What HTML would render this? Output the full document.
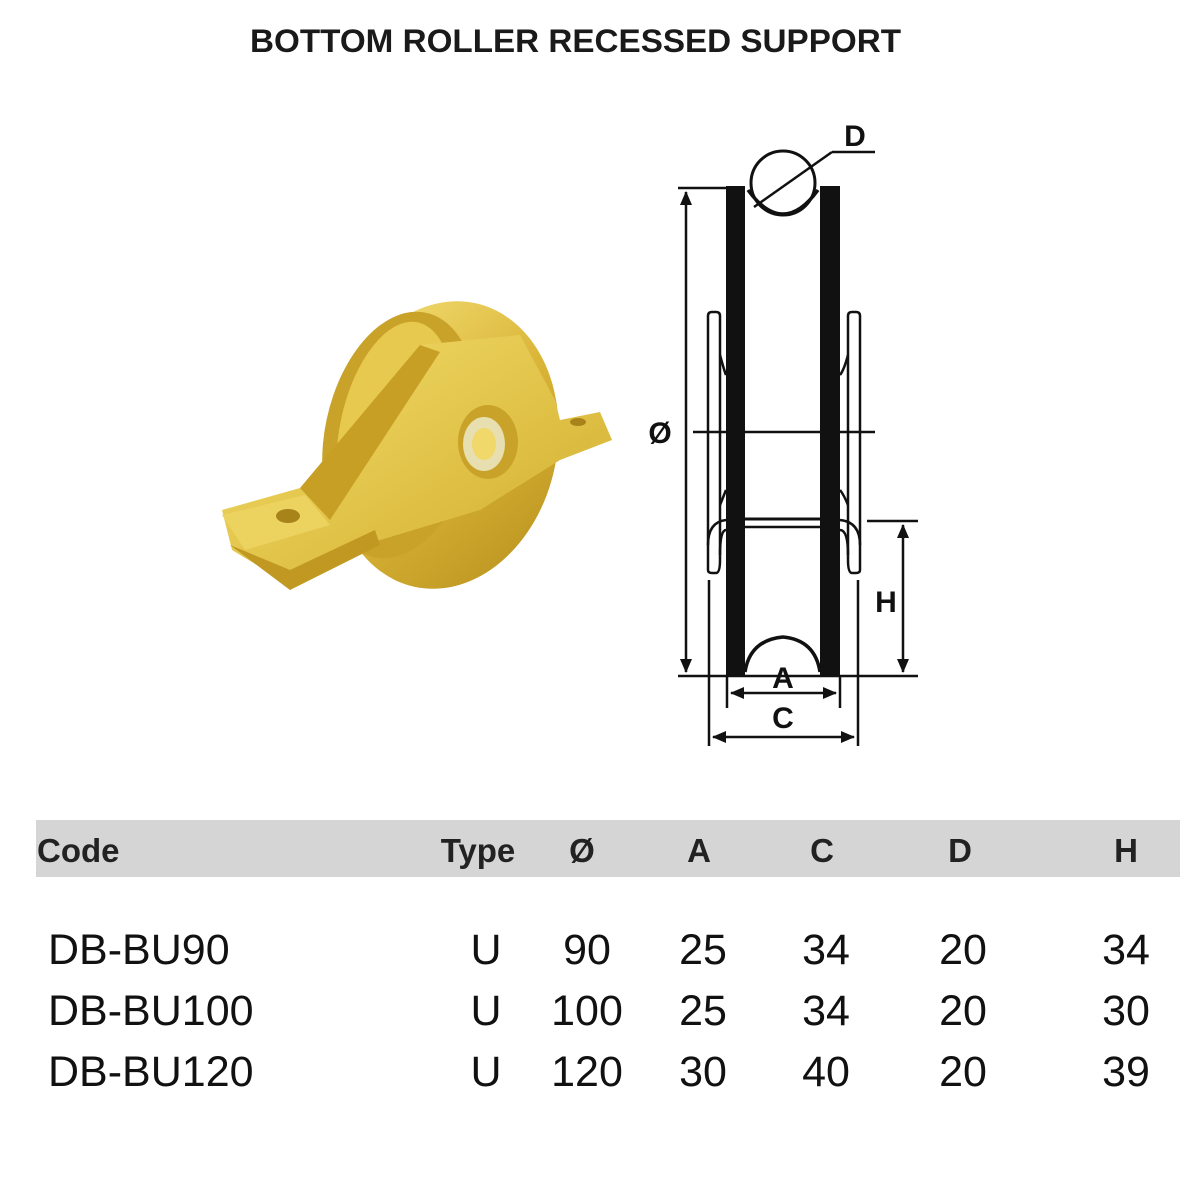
<!DOCTYPE html>
<html><head><meta charset="utf-8"><style>
html,body{margin:0;padding:0;background:#fff;width:1200px;height:1200px;overflow:hidden}
svg{display:block}
text{font-family:"Liberation Sans",Arial,sans-serif}
</style></head><body>
<svg width="1200" height="1200" viewBox="0 0 1200 1200" xmlns="http://www.w3.org/2000/svg">
<defs>
<marker id="ar" markerWidth="14" markerHeight="12" refX="13" refY="6" orient="auto-start-reverse" markerUnits="userSpaceOnUse"><path d="M0,0 L14,6 L0,12 z" fill="#111"/></marker>
<linearGradient id="g1" x1="0" y1="0" x2="1" y2="1"><stop offset="0" stop-color="#f6e27a"/><stop offset=".5" stop-color="#d9b436"/><stop offset="1" stop-color="#b8901e"/></linearGradient>
<linearGradient id="g2" x1="0" y1="0" x2="1" y2="1"><stop offset="0" stop-color="#f2dc6a"/><stop offset="1" stop-color="#d2ad2c"/></linearGradient>
</defs>
<text x="250" y="52" textLength="651" lengthAdjust="spacingAndGlyphs" font-size="32" font-weight="bold" fill="#1a1a1a">BOTTOM ROLLER RECESSED SUPPORT</text>

<!-- product image approximation -->
<g>
<ellipse cx="445" cy="445" rx="112" ry="145" fill="url(#g1)" transform="rotate(12 445 445)"/>
<ellipse cx="400" cy="435" rx="75" ry="125" fill="#c9a22a" transform="rotate(12 400 435)"/>
<ellipse cx="395" cy="430" rx="55" ry="110" fill="#e6c94e" transform="rotate(12 395 430)"/>
<path d="M222,510 L300,488 L360,470 L420,345 L520,335 L555,400 L560,420 L600,412 L612,440 L560,460 L480,510 L380,540 L290,585 L232,550 Z" fill="url(#g2)"/>
<path d="M300,488 L420,345 L440,352 L330,520 Z" fill="#c89f25"/>
<path d="M222,515 L305,495 L330,525 L245,550 Z" fill="#ecd25e"/>
<path d="M230,545 L290,590 L380,545 L375,530 L290,570 Z" fill="#c09822"/>
<ellipse cx="288" cy="516" rx="12" ry="7" fill="#a8831a"/>
<ellipse cx="488" cy="442" rx="30" ry="37" fill="#c9a22a"/>
<ellipse cx="484" cy="444" rx="21" ry="27" fill="#e8dfb0"/>
<ellipse cx="484" cy="444" rx="12" ry="16" fill="#f0d86a"/>
<ellipse cx="578" cy="422" rx="8" ry="4" fill="#a8831a"/>
</g>

<!-- technical drawing -->
<g stroke="#111" fill="none" stroke-width="2.5">
<circle cx="783" cy="183" r="32" stroke-width="3" fill="#fff"/>
<path d="M748,190 Q783,238 818,190" stroke-width="3.5"/>
<line x1="754" y1="207" x2="832" y2="152"/>
<line x1="832" y1="152" x2="875" y2="152"/>
<rect x="726" y="186" width="19" height="490" fill="#111" stroke="none"/>
<rect x="820" y="186" width="20" height="490" fill="#111" stroke="none"/>
<path d="M708,570 L708,316 Q708,312 712,312 L716,312 Q720,312 720,316 L720,560 Q720,573 716,573 L712,573 Q708,573 708,570 Z" fill="#fff"/>
<path d="M860,570 L860,316 Q860,312 856,312 L852,312 Q848,312 848,316 L848,560 Q848,573 852,573 L856,573 Q860,573 860,570 Z" fill="#fff"/>
<path d="M708,545 Q708,522 726,520"/>
<path d="M720,555 Q720,530 726,530"/>
<path d="M860,545 Q860,522 840,520"/>
<path d="M848,555 Q848,530 840,530"/>
<path d="M720,355 Q724,370 726,375"/><path d="M848,355 Q844,370 840,375"/>
<path d="M720,505 Q724,495 726,490"/><path d="M848,505 Q844,495 840,490"/>
<line x1="745" y1="519" x2="820" y2="519" stroke-width="3"/>
<line x1="745" y1="527" x2="820" y2="527"/>
<path d="M745,672 Q750,640 783,637 Q815,640 820,672" stroke-width="3.5"/>
<line x1="693" y1="432" x2="875" y2="432"/>
<line x1="678" y1="188" x2="726" y2="188"/>
<line x1="678" y1="676" x2="918" y2="676"/>
<line x1="686" y1="192" x2="686" y2="672" marker-start="url(#ar)" marker-end="url(#ar)"/>
<line x1="867" y1="521" x2="918" y2="521"/>
<line x1="903" y1="525" x2="903" y2="672" marker-start="url(#ar)" marker-end="url(#ar)"/>
<line x1="727" y1="676" x2="727" y2="708"/>
<line x1="840" y1="676" x2="840" y2="708"/>
<line x1="709" y1="580" x2="709" y2="746"/>
<line x1="858" y1="580" x2="858" y2="746"/>
<line x1="731" y1="693" x2="836" y2="693" marker-start="url(#ar)" marker-end="url(#ar)"/>
<line x1="713" y1="737" x2="854" y2="737" marker-start="url(#ar)" marker-end="url(#ar)"/>
</g>
<g font-weight="bold" font-size="30" fill="#111">
<text x="855" y="146" text-anchor="middle">D</text>
<text x="660" y="443" text-anchor="middle">Ø</text>
<text x="886" y="612" text-anchor="middle">H</text>
<text x="783" y="688" text-anchor="middle">A</text>
<text x="783" y="728" text-anchor="middle">C</text>
</g>

<rect x="36" y="820" width="1144" height="57" fill="#d5d5d5"/>
<g font-weight="bold" font-size="33" fill="#222">
<text x="37" y="862">Code</text>
<text x="478" y="862" text-anchor="middle">Type</text>
<text x="582" y="862" text-anchor="middle">Ø</text>
<text x="699" y="862" text-anchor="middle">A</text>
<text x="822" y="862" text-anchor="middle">C</text>
<text x="960" y="862" text-anchor="middle">D</text>
<text x="1126" y="862" text-anchor="middle">H</text>
</g>
<g font-size="43" fill="#111">
<text x="48" y="964">DB-BU90</text>
<text x="48" y="1025">DB-BU100</text>
<text x="48" y="1086">DB-BU120</text>
<g text-anchor="middle">
<text x="486" y="964">U</text><text x="587" y="964">90</text><text x="703" y="964">25</text><text x="826" y="964">34</text><text x="963" y="964">20</text><text x="1126" y="964">34</text>
<text x="486" y="1025">U</text><text x="587" y="1025">100</text><text x="703" y="1025">25</text><text x="826" y="1025">34</text><text x="963" y="1025">20</text><text x="1126" y="1025">30</text>
<text x="486" y="1086">U</text><text x="587" y="1086">120</text><text x="703" y="1086">30</text><text x="826" y="1086">40</text><text x="963" y="1086">20</text><text x="1126" y="1086">39</text>
</g>
</g>
</svg>
</body></html>
